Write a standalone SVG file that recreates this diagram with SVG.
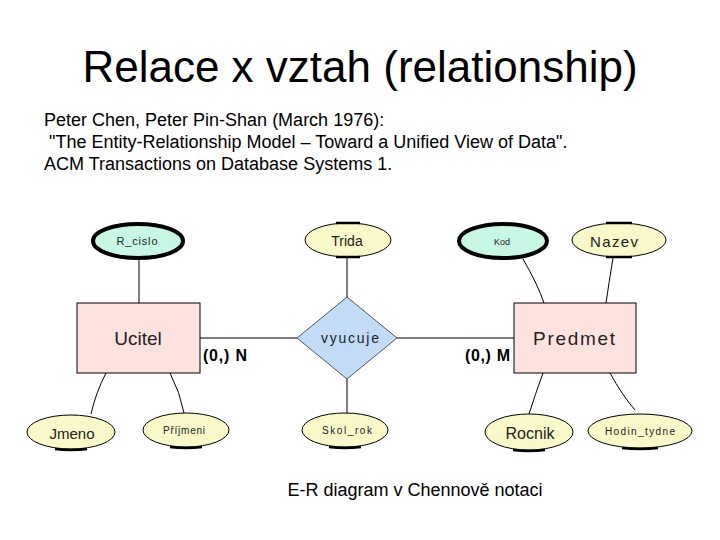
<svg xmlns="http://www.w3.org/2000/svg" width="720" height="540" viewBox="0 0 720 540">
<style>
.t{font-family:"Liberation Sans",Arial,sans-serif;fill:#000}
.lbl{font-family:"Liberation Sans",Arial,sans-serif;fill:#222;text-anchor:middle;dominant-baseline:central}
.attr{fill:#f8f8c8;stroke:#000;stroke-width:1}
.key{fill:#c8f7e6;stroke:#000;stroke-width:4}
.ent{fill:#fde2e0;stroke:#000;stroke-width:1}
.rel{fill:#c2dcf8;stroke:#555;stroke-width:1}
.ln{fill:none;stroke:#000;stroke-width:1}
.shade{fill:none;stroke:#000;stroke-width:2.5}
.card{font-family:"Liberation Sans",Arial,sans-serif;font-weight:bold;font-size:16px;fill:#000}
</style>
<rect width="720" height="540" fill="#fff"/>
<text class="t" x="360" y="82" font-size="44" text-anchor="middle">Relace x vztah (relationship)</text>
<text class="t" x="44" y="126" font-size="18">Peter Chen, Peter Pin-Shan (March 1976):</text>
<text class="t" x="44" y="148" font-size="18" xml:space="preserve"> "The Entity-Relationship Model – Toward a Unified View of Data".</text>
<text class="t" x="44" y="170" font-size="18">ACM Transactions on Database Systems 1.</text>

<g id="connectors">
<line class="ln" x1="139" y1="259" x2="139" y2="303"/>
<line class="ln" x1="347" y1="258" x2="347" y2="297"/>
<line class="ln" x1="200" y1="338" x2="297" y2="338"/>
<line class="ln" x1="397" y1="338" x2="514" y2="338"/>
<path class="ln" d="M523 259 Q538 285 544 303"/>
<path class="ln" d="M613 258 Q609 282 606 303"/>
<path class="ln" d="M106 373 Q96 392 91 414"/>
<path class="ln" d="M170 373 Q180 392 184 413"/>
<line class="ln" x1="347" y1="379" x2="347" y2="413"/>
<path class="ln" d="M543 373 Q535 395 529 414"/>
<path class="ln" d="M610 373 Q622 395 635 410"/>
</g>

<g id="R_cislo">
<ellipse class="key" cx="138" cy="241" rx="45" ry="17"/>
<text class="lbl" x="137" y="241" font-size="11" textLength="41" lengthAdjust="spacing">R_cislo</text>
</g>
<g id="Trida">
<ellipse class="attr" cx="348" cy="240" rx="43" ry="17"/>
<path class="shade" d="M336 223 L360 223"/>
<path class="shade" d="M336 257 L360 257"/>
<text class="lbl" x="347" y="241" font-size="14">Trida</text>
</g>
<g id="Kod">
<ellipse class="key" cx="503" cy="241" rx="44" ry="17"/>
<text class="lbl" x="502" y="242" font-size="9">Kod</text>
</g>
<g id="Nazev">
<ellipse class="attr" cx="619" cy="240" rx="47" ry="17"/>
<path class="shade" d="M606 223 L632 223"/>
<path class="shade" d="M606 257 L632 257"/>
<text class="lbl" x="614" y="241" font-size="15" textLength="48" lengthAdjust="spacing">Nazev</text>
</g>

<g id="Ucitel">
<rect class="ent" x="77" y="303" width="123" height="70"/>
<text class="lbl" x="138" y="338" font-size="19">Ucitel</text>
</g>
<g id="vyucuje">
<polygon class="rel" points="347,297 397,338 347,379 297,338"/>
<text class="lbl" x="350" y="338" font-size="14" textLength="58" lengthAdjust="spacing">vyucuje</text>
</g>
<g id="Predmet">
<rect class="ent" x="514" y="303" width="122" height="70"/>
<text class="lbl" x="574" y="338" font-size="19" textLength="82" lengthAdjust="spacing">Predmet</text>
</g>
<text class="card" x="203" y="361" textLength="44" lengthAdjust="spacing">(0,) N</text>
<text class="card" x="465" y="361" textLength="45" lengthAdjust="spacing">(0,) M</text>

<g id="Jmeno">
<ellipse class="attr" cx="71" cy="432" rx="44" ry="17"/>
<path class="shade" d="M55 449 Q71 451 87 449"/>
<text class="lbl" x="72" y="433" font-size="15">Jmeno</text>
</g>
<g id="Prijmeni">
<ellipse class="attr" cx="186" cy="430" rx="43" ry="17"/>
<path class="shade" d="M170 447 Q186 449 202 447"/>
<text class="lbl" x="184" y="430" font-size="10" textLength="42" lengthAdjust="spacing">Příjmeni</text>
</g>
<g id="Skol_rok">
<ellipse class="attr" cx="345" cy="430" rx="43" ry="17"/>
<path class="shade" d="M329 447 Q345 449 361 447"/>
<text class="lbl" x="347" y="430" font-size="10" textLength="50" lengthAdjust="spacing">Skol_rok</text>
</g>
<g id="Rocnik">
<ellipse class="attr" cx="529" cy="432" rx="44" ry="18"/>
<path class="shade" d="M513 450 Q529 452 545 450"/>
<text class="lbl" x="530" y="433" font-size="16">Rocnik</text>
</g>
<g id="Hodin_tydne">
<ellipse class="attr" cx="640" cy="431" rx="52" ry="17"/>
<path class="shade" d="M622 448 Q640 450 658 448"/>
<text class="lbl" x="640" y="431" font-size="10" textLength="70" lengthAdjust="spacing">Hodin_tydne</text>
</g>

<text class="t" x="415" y="496" font-size="18" text-anchor="middle">E-R diagram v Chennově notaci</text>
</svg>
